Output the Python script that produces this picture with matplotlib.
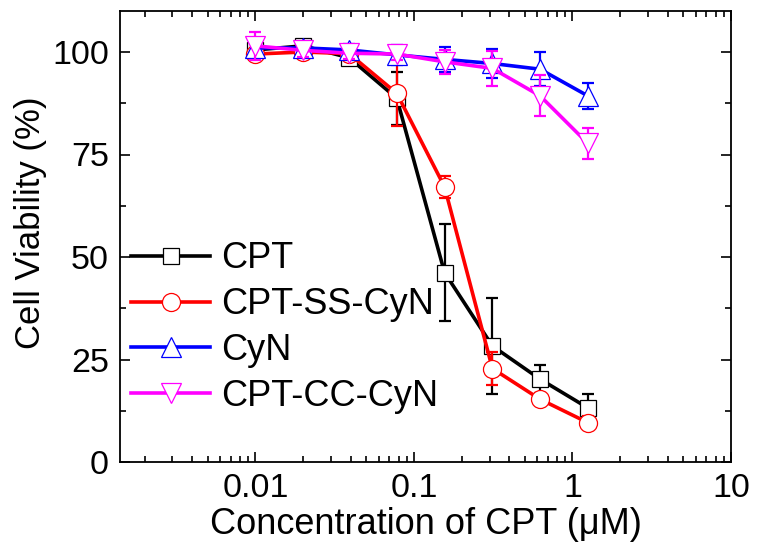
# Cell viability vs CPT concentration

# Import libraries:
import matplotlib
matplotlib.use("Agg")
import matplotlib.pyplot as plt
from matplotlib.ticker import LogLocator, MultipleLocator, FixedLocator, FixedFormatter

plt.rcParams['font.family'] = ['Liberation Sans', 'DejaVu Sans']

# Data:
conc = [0.01, 0.02, 0.039, 0.078, 0.156, 0.3125, 0.625, 1.25]

cpt = [100.5, 101.5, 98.6, 88.7, 46.2, 28.3, 20.2, 13.2]
cpt_err = [1.5, 1.5, 1.5, 6.5, 11.8, 11.7, 3.5, 3.5]

ss = [99.5, 100.0, 99.6, 89.9, 67.1, 22.8, 15.3, 9.6]
ss_err = [1.5, 1.5, 1.5, 8.0, 2.7, 4.0, 1.5, 1.5]

cyn = [101.0, 101.0, 100.5, 99.3, 98.2, 97.2, 95.8, 89.3]
cyn_err = [1.5, 1.5, 1.5, 2.5, 3.0, 3.5, 4.2, 3.2]

cc = [101.5, 100.4, 99.7, 99.5, 97.6, 96.0, 89.3, 77.7]
cc_err = [3.5, 1.5, 1.5, 1.5, 3.0, 4.2, 5.0, 3.7]

labels = ['CPT', 'CPT-SS-CyN', 'CyN', 'CPT-CC-CyN']
colors = ['black', '#FF0000', '#0000FF', '#FF00FF']
markers = ['s', 'o', '^', 'v']
msizes = [11, 13, 14, 14]

series = [(cpt, cpt_err), (ss, ss_err), (cyn, cyn_err), (cc, cc_err)]

# Figure:
fig = plt.figure(figsize=(7.57, 5.5), dpi=100)
ax = fig.add_axes([0.1585, 0.16, 0.8072, 0.82])

for i, (vals, errs) in enumerate(series):
    ax.errorbar(conc, vals, yerr=errs, fmt='none', ecolor=colors[i],
                elinewidth=1.6, capsize=4, capthick=1.6, zorder=2 + i)
    ax.plot(conc, vals, color=colors[i], lw=2.6, marker=markers[i],
            ms=msizes[i], mfc='white', mec=colors[i], mew=0.9,
            label=labels[i], zorder=2.5 + i)

# Axes:
ax.set_xscale('log')
ax.set_xlim(0.0014, 10)
ax.set_ylim(0, 110)

ax.xaxis.set_major_locator(FixedLocator([0.01, 0.1, 1, 10]))
ax.xaxis.set_major_formatter(FixedFormatter(['0.01', '0.1', '1', '10']))
ax.xaxis.set_minor_locator(LogLocator(base=10, subs=range(2, 10)))
ax.yaxis.set_major_locator(MultipleLocator(25))
ax.yaxis.set_minor_locator(MultipleLocator(12.5))

ax.tick_params(which='both', direction='in', top=True, right=True,
               labelsize=24.5, width=1.2, pad=8)
ax.tick_params(which='major', length=7)
ax.tick_params(which='minor', length=4)
for sp in ax.spines.values():
    sp.set_linewidth(1.3)

ax.set_xlabel('Concentration of CPT (μM)', fontsize=26, labelpad=2)
ax.set_ylabel('Cell Viability (%)', fontsize=25)
ax.yaxis.set_label_coords(-0.12, 0.53)

# Legend:
ax.legend(loc='center left', bbox_to_anchor=(0.0, 0.298), frameon=False,
          fontsize=26, handlelength=2.2, handletextpad=0.3,
          labelspacing=0.3, borderpad=0, borderaxespad=0.3)

plt.savefig('out.png', dpi=100)
